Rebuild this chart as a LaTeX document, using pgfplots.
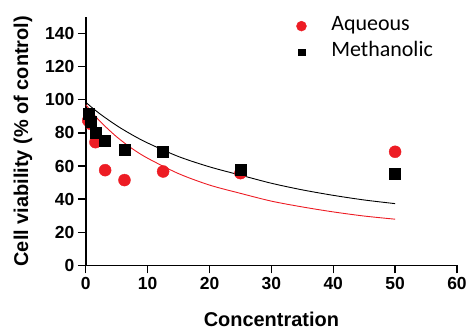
\documentclass[border=0pt]{standalone}
\usepackage{pgfplots}
\pgfplotsset{compat=1.18}
\usepackage{fontspec}
\setmainfont{Liberation Sans}
\newfontfamily\legfont{Carlito}
\definecolor{myred}{RGB}{237,28,36}
\begin{document}
\begin{tikzpicture}
\begin{axis}[
  scale only axis,
  width=372pt, height=249pt,
  xmin=0, xmax=60, ymin=0, ymax=150,
  axis lines=left,
  axis line style={line width=1.6pt, -},
  xtick={0,10,...,60}, ytick={0,20,...,140},
  tick style={line width=1.3pt, black},
  tick align=outside,
  major tick length=8pt,
  /pgf/number format/assume math mode=true,
  ticklabel style={font=\fontsize{17.5}{20}\selectfont\bfseries},
  xlabel={Concentration},
  ylabel={Cell viability (\% of control)},
  label style={font=\fontsize{20}{24}\selectfont\bfseries},
  xlabel style={at={(axis description cs:0.5,-0.217)}, anchor=center},
  ylabel style={at={(axis description cs:-0.169,0.5)}, anchor=center},
  clip=false,
  legend image code/.code={\path[draw=none,fill=none] (0pt,0pt) -- (36pt,0pt);
    \path[#1, draw=none] plot[only marks] coordinates {(8pt,0pt)};},
  legend style={draw=none, fill=none, inner sep=0pt,
    at={(rel axis cs:0.559,0.996)}, anchor=north west,
    font=\legfont\fontsize{22}{26}\selectfont, row sep=10pt,
    nodes={text height=12pt, text depth=4pt, inner ysep=0pt}},
  legend cell align=left,
]
\coordinate (o) at (rel axis cs:0,0);
\coordinate (t) at (rel axis cs:1,1);
\addplot[only marks, mark=*, mark size=6pt, color=myred, legend image post style={mark size=5pt}] coordinates {
 (0.39,87.5) (0.78,85.5) (1.56,74.4) (3.125,57.5) (6.25,51.5) (12.5,56.7) (25,55.7) (50,68.6)};
\addlegendentry{Aqueous}
\addplot[only marks, mark=square*, mark size=5.5pt, color=black, legend image post style={mark size=3.3pt}] coordinates {
 (0.39,91.5) (0.78,87) (1.56,80) (3.125,75) (6.25,69.6) (12.5,68.8) (25,57.5) (50,55.3)};
\addlegendentry{Methanolic}
\addplot[smooth, color=myred, line width=0.9pt, forget plot] coordinates {
 (0,97) (1,92.4) (2.5,86.2) (5,77.6) (7.5,70.5) (10,64.7) (15,55.4) (20,48.5) (25,43.5) (30,38.8) (35,35.3) (40,32.3) (45,29.8) (50,27.9)};
\addplot[smooth, color=black, line width=0.9pt, forget plot] coordinates {
 (0,98.5) (1,95.3) (2.5,90.9) (5,84.4) (7.5,78.8) (10,73.9) (15,65.7) (20,59.5) (25,54.5) (30,49.6) (35,45.6) (40,42.3) (45,39.5) (50,37.3)};
\end{axis}
\path ([xshift=-86pt,yshift=-63pt]o) rectangle ([xshift=12pt,yshift=17pt]t);
\end{tikzpicture}
\end{document}
